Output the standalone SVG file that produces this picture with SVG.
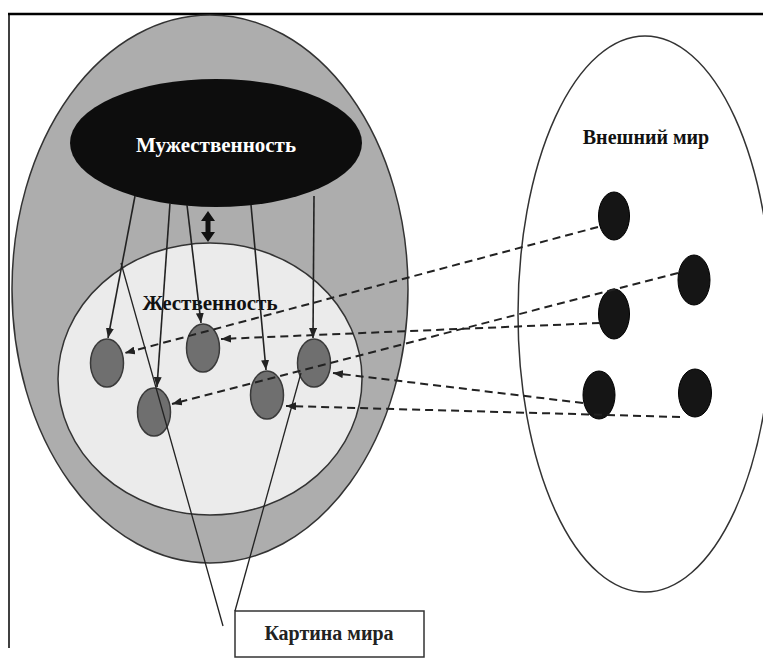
<svg xmlns="http://www.w3.org/2000/svg" width="763" height="658" viewBox="0 0 763 658">
<defs>
<style>
.lbl{font-family:"Liberation Serif","DejaVu Serif",serif;font-weight:bold;text-anchor:middle;dominant-baseline:central}
.solid{stroke:#222;stroke-width:1.6;fill:none;marker-end:url(#ah)}
.dash{stroke:#222;stroke-width:2;fill:none;stroke-dasharray:8 5;marker-end:url(#ah)}
.thin{stroke:#222;stroke-width:1.3;fill:none}
.gnode{fill:#6f6f6f;stroke:#3a3a3a;stroke-width:1.5}
.bdot{fill:#151515;stroke:#000;stroke-width:1}
</style>
<marker id="ah" markerUnits="userSpaceOnUse" markerWidth="10" markerHeight="8" refX="10" refY="4" orient="auto">
<path d="M0,0 L10,4 L0,8 z" fill="#222"/>
</marker>
</defs>
<rect width="763" height="658" fill="#ffffff"/>
<g id="frame">
<line x1="8" y1="14" x2="763" y2="14" stroke="#000" stroke-width="2.5"/>
<line x1="9" y1="14" x2="9" y2="648" stroke="#000" stroke-width="1.5"/>
</g>
<g id="outer">
<ellipse cx="210" cy="289" rx="198" ry="274" fill="#adadad" stroke="#333" stroke-width="1.5"/>
</g>
<g id="zhenstvennost">
<ellipse cx="210" cy="379" rx="152" ry="136" fill="#ebebeb" stroke="#333" stroke-width="1.5"/>
<text class="lbl" x="210" y="303" font-size="21" fill="#111">Жественность</text>
</g>
<g id="muzhestvennost">
<ellipse cx="216" cy="143" rx="146" ry="64" fill="#0d0d0d"/>
<text class="lbl" x="216" y="145" font-size="21" fill="#ffffff">Мужественность</text>
</g>
<g id="g1"><ellipse class="gnode" cx="107" cy="363" rx="16.5" ry="24"/></g>
<g id="g2"><ellipse class="gnode" cx="203" cy="348" rx="16.5" ry="24"/></g>
<g id="g3"><ellipse class="gnode" cx="154" cy="412" rx="16.5" ry="24"/></g>
<g id="g4"><ellipse class="gnode" cx="267" cy="395" rx="16.5" ry="24"/></g>
<g id="g5"><ellipse class="gnode" cx="314" cy="363" rx="16.5" ry="24"/></g>
<g id="vneshniy">
<ellipse cx="645" cy="314" rx="127" ry="278" fill="none" stroke="#333" stroke-width="1.5"/>
<text class="lbl" x="646" y="137" font-size="20" fill="#111">Внешний мир</text>
</g>
<g id="dA"><ellipse class="bdot" cx="614" cy="216" rx="15.5" ry="24"/></g>
<g id="dB"><ellipse class="bdot" cx="694" cy="280" rx="16" ry="25"/></g>
<g id="dC"><ellipse class="bdot" cx="614" cy="314" rx="15.5" ry="25"/></g>
<g id="dD"><ellipse class="bdot" cx="599" cy="395" rx="16" ry="24"/></g>
<g id="dE"><ellipse class="bdot" cx="695" cy="393" rx="16.5" ry="24"/></g>
<g id="kartina">
<rect x="235" y="611" width="189" height="46" fill="#ffffff" stroke="#333" stroke-width="1.5"/>
<text class="lbl" x="329" y="633" font-size="20" fill="#222">Картина мира</text>
</g>
<g id="connectors">
<path d="M208,211 L215,221 L210.5,221 L210.5,232 L215,232 L208,242 L201,232 L205.5,232 L205.5,221 L201,221 Z" fill="#111"/>
<line class="solid" x1="135" y1="196" x2="108" y2="338"/>
<line class="solid" x1="170" y1="203" x2="157" y2="387"/>
<line class="solid" x1="187" y1="205" x2="201" y2="323"/>
<line class="solid" x1="251" y1="205" x2="266" y2="370"/>
<line class="solid" x1="314" y1="196" x2="313" y2="338"/>
<line class="thin" x1="121" y1="263" x2="223" y2="626"/>
<line class="thin" x1="301" y1="373" x2="235" y2="611"/>
<line class="dash" x1="598" y1="227" x2="125" y2="353"/>
<line class="dash" x1="678" y1="273" x2="172" y2="404"/>
<line class="dash" x1="600" y1="323" x2="221" y2="339"/>
<line class="dash" x1="583" y1="403" x2="333" y2="373"/>
<line class="dash" x1="680" y1="417" x2="286" y2="406"/>
</g>
</svg>
